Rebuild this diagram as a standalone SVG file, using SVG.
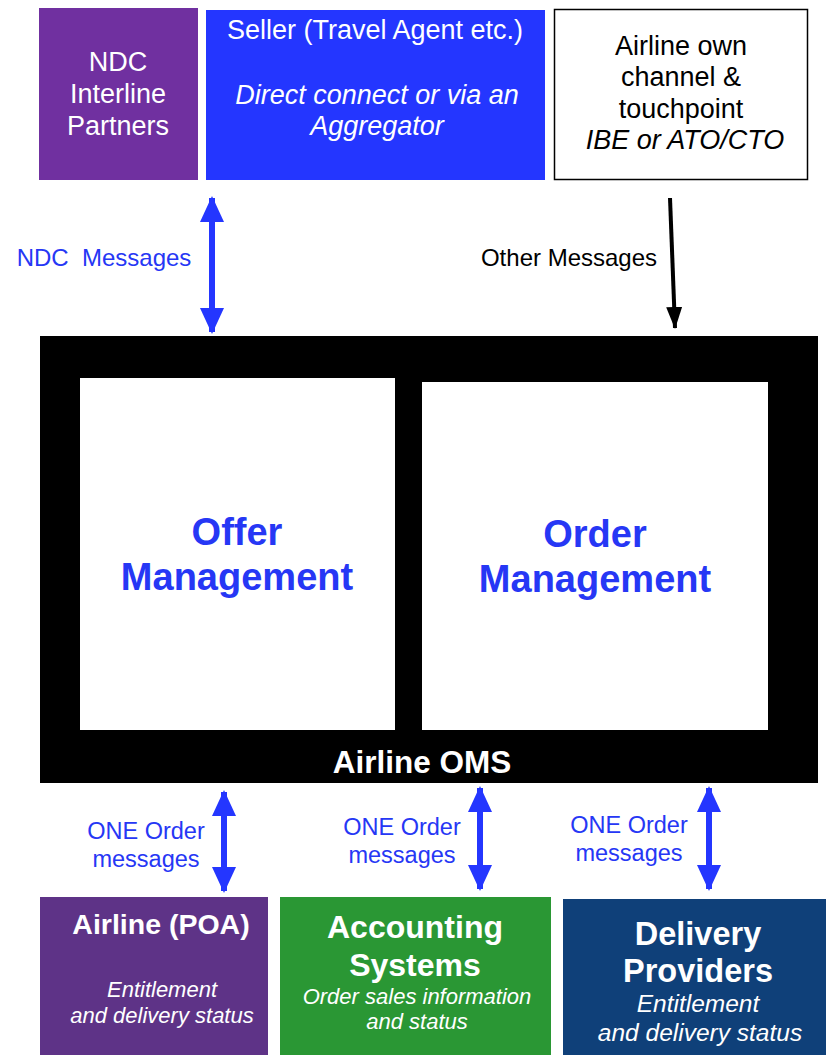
<svg xmlns="http://www.w3.org/2000/svg" width="826" height="1055" viewBox="0 0 826 1055">
<defs>
<style>
text{font-family:"Liberation Sans",Arial,sans-serif;text-anchor:middle}
.w{fill:#fff}
.k{fill:#000}
.b{fill:#2637F5}
.it{font-style:italic}
.bd{font-weight:bold}
.t27{font-size:27px}
.t24{font-size:24px}
.t22{font-size:22px}
.mgmt{font-size:38px;font-weight:bold}
.blueline{stroke:#2436FF;stroke-width:6;fill:none}
.blackline{stroke:#000;stroke-width:4;fill:none}
</style>
<marker id="bh" markerUnits="userSpaceOnUse" viewBox="0 0 26 24" refX="24" refY="12" markerWidth="26" markerHeight="24" orient="auto-start-reverse">
<path d="M0,0 L26,12 L0,24 Z" fill="#2436FF"/>
</marker>
<marker id="kh" markerUnits="userSpaceOnUse" viewBox="0 0 22 16" refX="21" refY="8" markerWidth="22" markerHeight="16" orient="auto">
<path d="M0,0 L22,8 L0,16 Z" fill="#000"/>
</marker>
</defs>
<rect width="826" height="1055" fill="#fff"/>

<g id="ndc-interline">
<rect x="39" y="8" width="159" height="172" fill="#7030A0"/>
<text class="w t27" x="118" y="71">NDC</text>
<text class="w t27" x="118" y="103">Interline</text>
<text class="w t27" x="118" y="135">Partners</text>
</g>

<g id="seller">
<rect x="206" y="10" width="339" height="170" fill="#2436FF"/>
<text class="w t27" x="375" y="39">Seller (Travel Agent etc.)</text>
<text class="w t27 it" x="377" y="104">Direct connect or via an</text>
<text class="w t27 it" x="377" y="135">Aggregator</text>
</g>

<g id="airline-own">
<rect x="554.5" y="9.5" width="253" height="170" fill="#fff" stroke="#000" stroke-width="1.5"/>
<text class="k t27" x="681" y="55">Airline own</text>
<text class="k t27" x="681" y="86">channel &amp;</text>
<text class="k t27" x="681" y="118">touchpoint</text>
<text class="k t27 it" x="685" y="149">IBE or ATO/CTO</text>
</g>

<g id="oms">
<rect x="40" y="336" width="778" height="447" fill="#000"/>
<text class="w bd" x="422" y="773" style="font-size:31.5px">Airline OMS</text>
</g>

<g id="offer-management">
<rect x="80" y="378" width="315" height="352" fill="#fff"/>
<text class="b mgmt" x="237" y="545">Offer</text>
<text class="b mgmt" x="237" y="590">Management</text>
</g>

<g id="order-management">
<rect x="422" y="382" width="346" height="348" fill="#fff"/>
<text class="b mgmt" x="595" y="547">Order</text>
<text class="b mgmt" x="595" y="592">Management</text>
</g>

<g id="airline-poa">
<rect x="40" y="897" width="228" height="158" fill="#5E3387"/>
<text class="w bd" x="161" y="934" style="font-size:28.5px">Airline (POA)</text>
<text class="w t22 it" x="162" y="997">Entitlement</text>
<text class="w t22 it" x="162" y="1023">and delivery status</text>
</g>

<g id="accounting">
<rect x="280" y="897" width="271" height="158" fill="#2A9734"/>
<text class="w bd" x="415" y="938" style="font-size:32px">Accounting</text>
<text class="w bd" x="415" y="976" style="font-size:32px">Systems</text>
<text class="w t22 it" x="417" y="1004">Order sales information</text>
<text class="w t22 it" x="417" y="1029">and status</text>
</g>

<g id="delivery">
<rect x="563" y="899" width="263" height="156" fill="#0F4079"/>
<text class="w bd" x="698" y="945" style="font-size:32.5px">Delivery</text>
<text class="w bd" x="698" y="982" style="font-size:32.5px">Providers</text>
<text class="w it" x="698" y="1012" style="font-size:24.5px">Entitlement</text>
<text class="w it" x="700" y="1041" style="font-size:24.5px">and delivery status</text>
</g>

<g id="connectors">
<line class="blueline" x1="212" y1="198" x2="212" y2="332" marker-start="url(#bh)" marker-end="url(#bh)"/>
<text class="b t24" x="104" y="266" style="white-space:pre">NDC  Messages</text>
<line class="blackline" x1="670" y1="198" x2="675" y2="328" marker-end="url(#kh)"/>
<text class="k t24" x="569" y="266">Other Messages</text>

<line class="blueline" x1="224" y1="792" x2="224" y2="891" marker-start="url(#bh)" marker-end="url(#bh)"/>
<text class="b" x="146" y="839" style="font-size:23.5px">ONE Order</text>
<text class="b" x="146" y="867" style="font-size:23.5px">messages</text>

<line class="blueline" x1="480" y1="788" x2="480" y2="889" marker-start="url(#bh)" marker-end="url(#bh)"/>
<text class="b" x="402" y="835" style="font-size:23.5px">ONE Order</text>
<text class="b" x="402" y="863" style="font-size:23.5px">messages</text>

<line class="blueline" x1="709" y1="788" x2="709" y2="889" marker-start="url(#bh)" marker-end="url(#bh)"/>
<text class="b" x="629" y="833" style="font-size:23.5px">ONE Order</text>
<text class="b" x="629" y="861" style="font-size:23.5px">messages</text>
</g>
</svg>
